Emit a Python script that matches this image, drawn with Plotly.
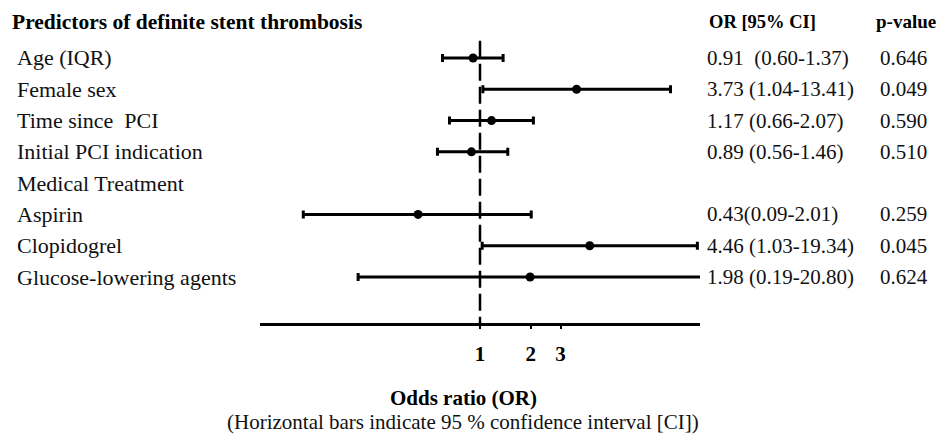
import plotly.graph_objects as go

# ---- data ----
labels = ["Age (IQR)", "Female sex", "Time since&nbsp; PCI", "Initial PCI indication",
          "Medical Treatment", "Aspirin", "Clopidogrel", "Glucose-lowering agents"]
or_vals = [0.91, 3.73, 1.17, 0.89, None, 0.43, 4.46, 1.98]
ci_low = [0.60, 1.04, 0.66, 0.56, None, 0.09, 1.03, 0.19]
ci_high = [1.37, 13.41, 2.07, 1.46, None, 2.01, 19.34, 20.80]
ci_text = ["0.91&nbsp; (0.60-1.37)", "3.73 (1.04-13.41)", "1.17 (0.66-2.07)", "0.89 (0.56-1.46)",
           "", "0.43(0.09-2.01)", "4.46 (1.03-19.34)", "1.98 (0.19-20.80)"]
p_vals = ["0.646", "0.049", "0.590", "0.510", "", "0.259", "0.045", "0.624"]
tick_vals = [1, 2, 3]
tick_text = ["<b>1</b>", "<b>2</b>", "<b>3</b>"]

# page body has an 8px default margin: figure is sized to fit the window
OFF = 8
W, H = 945 - OFF, 439 - OFF
FONT = "Liberation Serif, Times New Roman, serif"


def px(x):
    return (x - OFF) / W


def py(y):
    return 1 - (y - OFF) / H


rows = list(range(len(labels)))
idx = [i for i in rows if or_vals[i] is not None]

fig = go.Figure()

# reference line at OR = 1
fig.add_trace(go.Scatter(
    x=[1, 1], y=[-0.55, 8.47], mode="lines",
    line=dict(color="black", width=2.5, dash="17px,6px"),
    hoverinfo="skip", showlegend=False, cliponaxis=False))

fig.add_trace(go.Scatter(
    x=[or_vals[i] for i in idx], y=idx, mode="markers",
    marker=dict(color="black", size=9),
    error_x=dict(type="data", symmetric=False,
                 array=[ci_high[i] - or_vals[i] for i in idx],
                 arrayminus=[or_vals[i] - ci_low[i] for i in idx],
                 color="black", thickness=3, width=4),
    showlegend=False, cliponaxis=False))

ann = []
ann.append(dict(text="<b>Predictors of definite stent thrombosis</b>", xref="paper", yref="paper",
                x=px(10), y=py(22), xanchor="left", yanchor="middle", showarrow=False,
                font=dict(size=21.5, family=FONT, color="black")))
ann.append(dict(text="<b>OR [95% CI]</b>", xref="paper", yref="paper",
                x=px(707), y=py(22), xanchor="left", yanchor="middle", showarrow=False,
                font=dict(size=18.5, family=FONT, color="black")))
ann.append(dict(text="<b>p-value</b>", xref="paper", yref="paper",
                x=px(874), y=py(22), xanchor="left", yanchor="middle", showarrow=False,
                font=dict(size=19, family=FONT, color="black")))
for i in rows:
    ann.append(dict(text=labels[i], xref="paper", yref="y", x=px(15), y=i,
                    xanchor="left", yanchor="middle", showarrow=False,
                    font=dict(size=22, family=FONT, color="#111")))
    if ci_text[i]:
        ann.append(dict(text=ci_text[i], xref="paper", yref="y", x=px(705), y=i,
                        xanchor="left", yanchor="middle", showarrow=False,
                        font=dict(size=21, family=FONT, color="#111")))
        ann.append(dict(text=p_vals[i], xref="paper", yref="y", x=px(878), y=i,
                        xanchor="left", yanchor="middle", showarrow=False,
                        font=dict(size=21, family=FONT, color="#111")))
ann.append(dict(text="<b>Odds ratio (OR)</b>", xref="paper", yref="paper",
                x=px(463), y=py(398), xanchor="center", yanchor="middle", showarrow=False,
                font=dict(size=21, family=FONT, color="black")))
ann.append(dict(text="(Horizontal bars indicate 95 % confidence interval [CI])", xref="paper", yref="paper",
                x=px(463), y=py(422), xanchor="center", yanchor="middle", showarrow=False,
                font=dict(size=21, family=FONT, color="#111")))

fig.update_layout(
    width=W, height=H, margin=dict(l=0, r=0, t=0, b=0),
    paper_bgcolor="white", plot_bgcolor="white",
    annotations=ann,
    xaxis=dict(type="log", range=[-1.302, 1.302], domain=[px(260), px(700)],
               showline=True, linecolor="black", linewidth=2.5,
               tickvals=tick_vals, ticktext=tick_text, ticks="outside", ticklen=3,
               tickcolor="black", tickwidth=1.5, ticklabelstandoff=7,
               tickfont=dict(size=21, family=FONT, color="black"),
               showgrid=False, zeroline=False, anchor="y"),
    yaxis=dict(range=[8.47, -0.575], domain=[py(323), py(40)], visible=False,
               showgrid=False, zeroline=False),
)

fig.write_html("out.html")
